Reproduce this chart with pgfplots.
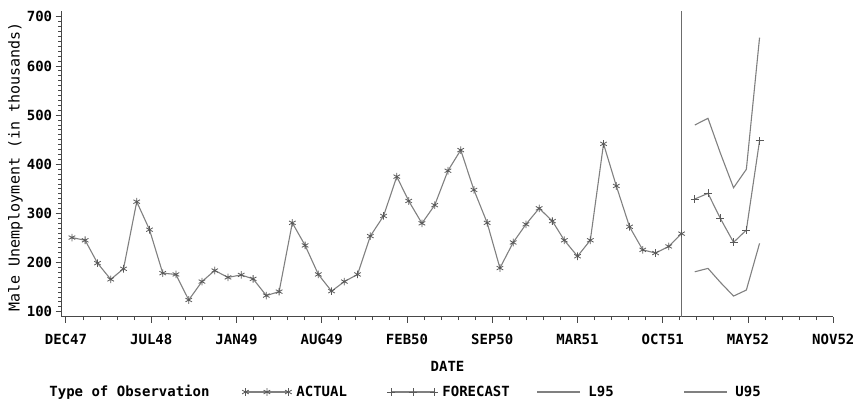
\documentclass[border=0pt]{standalone}
\usepackage{fontspec}
\setmainfont{DejaVu Sans Mono}
\usepackage{pgfplots}
\pgfplotsset{compat=1.18}
\definecolor{serie}{gray}{0.5}
\definecolor{markc}{gray}{0.35}
\definecolor{axc}{gray}{0.28}
\begin{document}
\begin{tikzpicture}[x=1pt,y=1pt]
\path[use as bounding box] (0,0) rectangle (858,400);
\begin{axis}[
  at={(61.7pt,83.3pt)}, anchor=south west,
  scale only axis, width=771.6pt, height=305.7pt,
  xmin=-10, xmax=1800, ymin=90, ymax=712,
  axis lines=left, axis line style={-, axc, line width=1.1pt},
  tick align=outside, tick style={axc, line width=1pt},
  major tick length=6pt, minor tick length=3.5pt,
  xtick={0,200,...,1800},
  xticklabels={DEC47,JUL48,JAN49,AUG49,FEB50,SEP50,MAR51,OCT51,MAY52,NOV52},
  minor x tick num=4,
  ytick={100,200,...,700}, minor y tick num=9,
  /pgf/number format/assume math mode=true,
  ticklabel style={font=\bfseries\fontsize{14}{14}\selectfont},
  xticklabel style={yshift=-8pt},
  ylabel={Male Unemployment (in thousands)},
  ylabel style={at={(axis description cs:-0.06,0.49)}, anchor=center, rotate=0, font=\fontsize{15}{15}\selectfont},
  xlabel={DATE},
  xlabel style={at={(axis description cs:0.5,-0.161)}, anchor=center, font=\bfseries\fontsize{14}{14}\selectfont},
  legend columns=5,
  legend style={draw=none, fill=none, at={(axis description cs:0,0)}, anchor=west,
    xshift=-23.5pt, yshift=-75.3pt, font=\bfseries\fontsize{14}{14}\selectfont,
    nodes={inner sep=0pt},
    /tikz/every odd column/.append style={column sep=8pt},
    /tikz/every even column/.append style={column sep=0pt}},
  legend cell align=left,
  legend image code/.code={%
    \begin{pgfinterruptboundingbox}
    \draw[#1] plot coordinates {(0pt,0pt) (21.5pt,0pt) (43pt,0pt)};
    \end{pgfinterruptboundingbox}
    \path[draw=none, fill=none, mark=none] (0pt,-4pt) rectangle (43pt,4pt);},
]
\addlegendimage{empty legend}
\addlegendentry{\makebox[196pt][l]{Type of Observation}}
\addplot[serie, line width=1.1pt, mark=asterisk, mark size=3.8pt, mark options={markc, line width=0.8pt}] coordinates {
(14,251) (45,245.5) (74,199) (105,166) (135,187.5) (166,324) (196,267) (227,178.6) (258,176) (288,124) (319,161.5) (349,184)
(380,170) (411,175) (439,167) (470,133) (500,141) (531,281) (561,235) (592,176) (623,142) (653,161.5) (684,176) (714,254)
(745,295) (776,375) (804,325.5) (835,280) (865,317) (896,387) (926,429) (957,348) (988,281) (1018,189) (1049,241) (1079,278)
(1110,310.5) (1141,284.5) (1169,245.5) (1200,213) (1230,245.5) (1261,441.7) (1291,356) (1322,273) (1353,226) (1383,219.6) (1414,233) (1444,259)
};
\addlegendentry{\makebox[95pt][l]{ACTUAL}}
\addplot[serie, line width=1.1pt, mark=+, mark size=4pt, mark options={markc, line width=0.8pt}] coordinates {
(1475,329.4) (1506,341) (1535,290) (1566,241.3) (1596,266.3) (1627,448)
};
\addlegendentry{\makebox[95pt][l]{FORECAST}}
\addplot[serie, line width=1.1pt] coordinates {
(1475,181.4) (1506,188.3) (1535,160) (1566,132) (1596,144.2) (1627,239.2)
};
\addlegendentry{\makebox[96pt][l]{L95}}
\addplot[serie, line width=1.1pt] coordinates {
(1475,480) (1506,493.7) (1535,423) (1566,352.4) (1596,389.9) (1627,657.8)
};
\addlegendentry{U95}
\addplot[serie!85!black, line width=1.5pt, forget plot] coordinates {(1444,90) (1444,712)};
\end{axis}
\end{tikzpicture}
\end{document}
